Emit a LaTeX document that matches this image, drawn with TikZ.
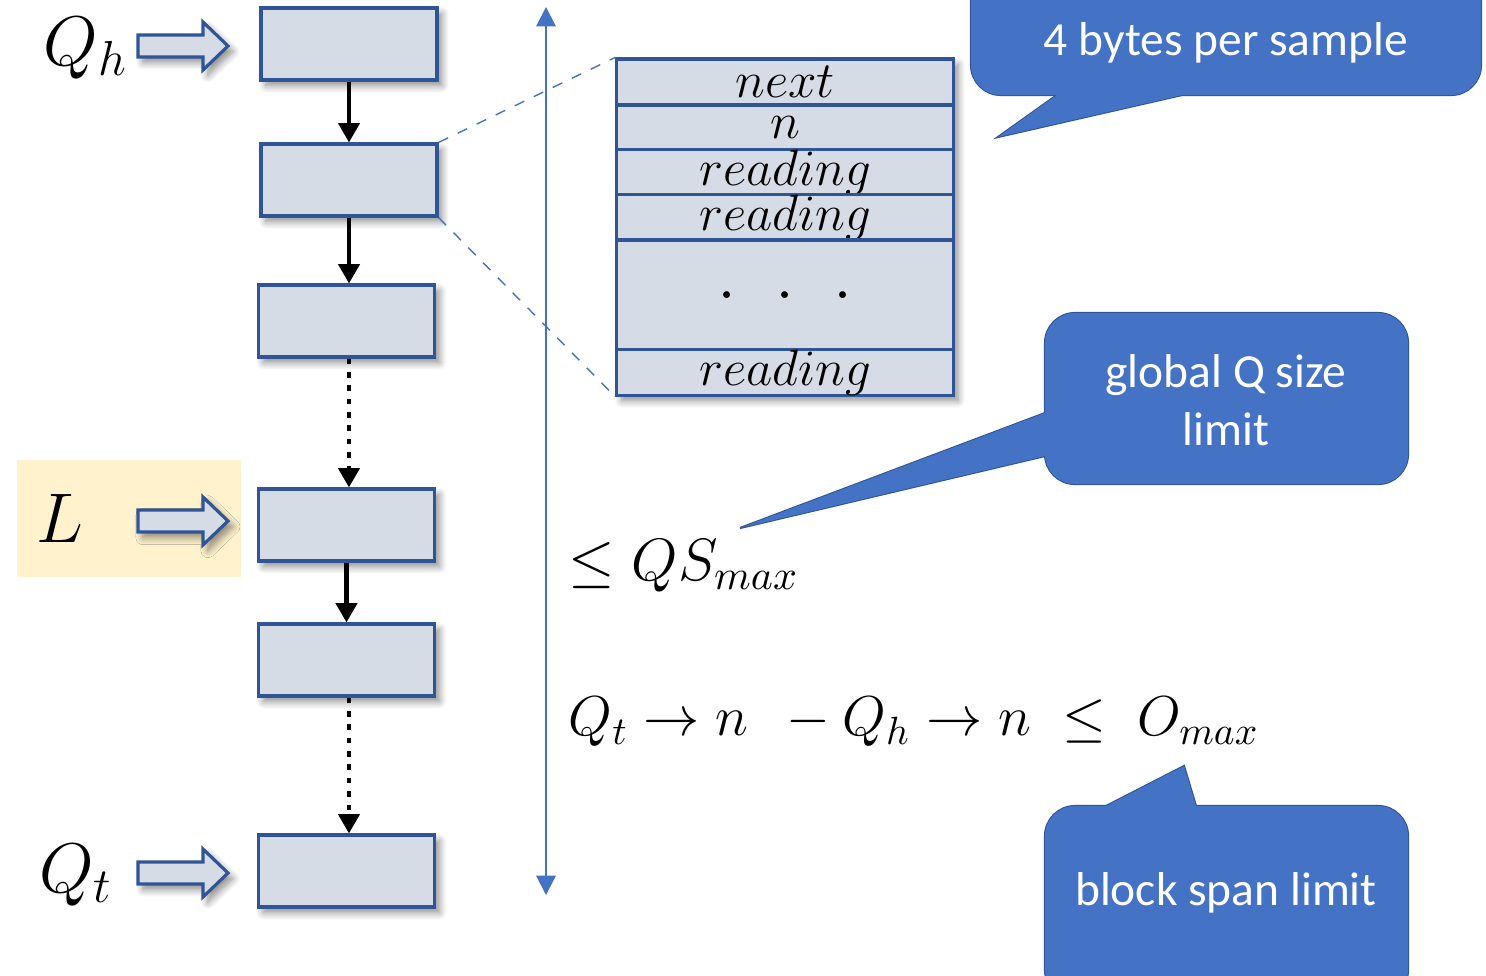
\RequirePackage{fix-cm}
\documentclass[tikz,border=0pt]{standalone}
\usepackage{fontspec}
\newfontfamily\calfont{Carlito}
\usetikzlibrary{arrows.meta,shadows.blur}
\definecolor{blkfill}{HTML}{D6DCE5}
\definecolor{blkline}{HTML}{2F5597}
\definecolor{accent}{HTML}{4472C4}
\definecolor{hilite}{HTML}{FFF2CC}
\tikzset{
  shd/.style={blur shadow={shadow blur steps=8, shadow xshift=1.4pt, shadow yshift=-1.6pt, shadow blur radius=2pt, shadow opacity=45}},
  blk/.style={draw=blkline, fill=blkfill, line width=0.9pt, minimum width=1.76cm, minimum height=0.72cm, inner sep=0pt, shd},
  row/.style={draw=blkline, fill=blkfill, line width=0.9pt, minimum width=3.36cm, inner sep=0pt, font=\fontsize{14.5}{16}\selectfont},
  fatarrow/.style={draw=blkline, fill=blkfill, line width=0.9pt, shd},
  link/.style={black, line width=1.15pt, -{Triangle[width=6pt,length=5.5pt]}},
  dlink/.style={link, dash pattern=on 1.6pt off 2.2pt},
  zoomline/.style={accent, line width=0.4pt, dashed},
  lbl/.style={font=\fontsize{20}{24}\selectfont, inner sep=0pt},
  mathlbl/.style={font=\fontsize{17}{20}\selectfont, inner sep=0pt, anchor=west},
  cborder/.style={draw=blkline, fill=accent, line width=0.6pt},
  cfill/.style={fill=accent},
  ctext/.style={text=white, font=\calfont\fontsize{13.5}{16.5}\selectfont, align=center, inner sep=0pt},
}
\begin{document}
\begin{tikzpicture}[x=0.01cm,y=-0.01cm]
\useasboundingbox (0,0) rectangle (1486,975);

% highlight behind L
\node[fill=hilite, minimum width=2.24cm, minimum height=1.17cm, inner sep=0pt] (lbg) at (129,518.5) {};

% chain of blocks
\node[blk] (b1) at (349,44) {};
\node[blk] (b2) at (349,180) {};
\node[blk] (b3) at (346.5,321) {};
\node[blk] (b4) at (346.5,525) {};
\node[blk] (b5) at (346.5,660) {};
\node[blk] (b6) at (346.5,871) {};

\draw[link] (b1.south) -- (b2.north);
\draw[link] (b2.south) -- (b2.south |- b3.north);
\draw[dlink] ([xshift=0.7pt]b3.south) -- ([xshift=0.7pt]b4.north);
\draw[link] (b4.south) -- (b5.north);
\draw[dlink] ([xshift=0.7pt]b5.south) -- ([xshift=0.7pt]b6.north);

% pointer arrows
\foreach \dy in {0,475,827}{
  \draw[fatarrow, shift={(0,\dy)}] (138,35) -- (203,35) -- (203,22) -- (228,46) -- (203,70) -- (203,57) -- (138,57) -- cycle;
}

% labels
\node[lbl] (qh) at (86,48) {$Q_h$};
\node[lbl] (ll) at (60,518) {$L$};
\node[lbl] (qt) at (76,875) {$Q_t$};

% detail table
\node[draw=blkline, fill=blkfill, minimum width=3.36cm, minimum height=3.36cm, inner sep=0pt, shd] (tbl) at (785,227) {};
\node[row, minimum height=0.46cm] (t1) at (785,82) {$next$};
\node[row, minimum height=0.45cm] (t2) at (785,127.5) {$n$};
\node[row, minimum height=0.45cm] (t3) at (785,172.5) {$reading$};
\node[row, minimum height=0.45cm] (t4) at (785,217.5) {$reading$};
\node[row, minimum height=1.10cm, font=\fontsize{20}{22}\selectfont] (t5) at (785,295) {$.\;\;.\;\;.$};
\node[row, minimum height=0.45cm] (t6) at (785,372.5) {$reading$};

\draw[zoomline] (b2.north east) -- (t1.north west);
\draw[zoomline] (b2.south east) -- (t6.south west);

% vertical span arrow
\coordinate (vt) at (546,7);
\coordinate (vb) at (546,895);
\draw[accent, line width=0.6pt, {Triangle[width=5.5pt,length=5.5pt]}-{Triangle[width=5.5pt,length=5.5pt]}] (vt) -- (vb);

% formulas
\node[mathlbl] (qs) at (568,566) {$\leq QS_{max}$};
\node[mathlbl, font=\fontsize{16}{20}\selectfont] (fm) at (568,722) {$Q_t \to n\;\, - Q_h \to n \;\leq\; O_{max}$};

% callout 1 (top)
\draw[cborder, rounded corners=8.5pt] (971,-120) rectangle (1481,95);
\draw[cborder] (1057,80) -- (1057,95) -- (998,137) -- (1182,95) -- (1182,80) -- cycle;
\fill[cfill, rounded corners=8.5pt] (971,-120) rectangle (1481,95);
\fill[cfill] (1057,80) -- (1057,95) -- (998,137) -- (1182,95) -- (1182,80) -- cycle;
\node[ctext] (c1) at (1226,43) {4 bytes per sample};

% callout 2
\draw[cborder, rounded corners=8.5pt] (1045,313) rectangle (1408,484);
\draw[cborder] (1065,413) -- (1045,413) -- (740,528) -- (1045,456) -- (1065,456) -- cycle;
\fill[cfill, rounded corners=8.5pt] (1045,313) rectangle (1408,484);
\fill[cfill] (1065,413) -- (1045,413) -- (740,528) -- (1045,456) -- (1065,456) -- cycle;
\node[ctext] (c2) at (1226,400) {global Q size\\limit};

% callout 3
\draw[cborder, rounded corners=8.5pt] (1045,806) rectangle (1408,1000);
\draw[cborder] (1106,822) -- (1106,806) -- (1184,766) -- (1196,806) -- (1196,822) -- cycle;
\fill[cfill, rounded corners=8.5pt] (1045,806) rectangle (1408,1000);
\fill[cfill] (1106,822) -- (1106,806) -- (1184,766) -- (1196,806) -- (1196,822) -- cycle;
\node[ctext] (c3) at (1226,893) {block span limit};
\end{tikzpicture}
\end{document}
